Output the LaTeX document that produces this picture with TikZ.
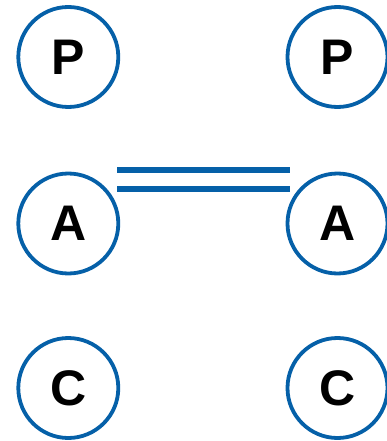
\documentclass[tikz,border=0pt]{standalone}
\usepackage{fontspec}
\setmainfont{Liberation Sans}
\definecolor{cblue}{HTML}{0560A8}
\begin{document}
\begin{tikzpicture}[x=1pt,y=-1pt,
  atom/.style={circle,draw=cblue,line width=3.8pt,minimum size=100pt,inner sep=0pt,font=\fontsize{50}{50}\selectfont\bfseries,text=black},
  bond/.style={draw=cblue,line width=5.5pt}]
\useasboundingbox (0,0) rectangle (386,441);
\node[atom] (pL) at (68.3,57) {P};
\node[atom] (pR) at (337.5,57) {P};
\node[atom] (aL) at (68.3,223.5) {A};
\node[atom] (aR) at (337.5,223.5) {A};
\node[atom] (cL) at (68.3,388) {C};
\node[atom] (cR) at (337.5,388) {C};
\coordinate (b1s) at (117,170);
\coordinate (b1e) at (290,170);
\coordinate (b2s) at (117,189);
\coordinate (b2e) at (290,189);
\draw[bond] (b1s) -- (b1e);
\draw[bond] (b2s) -- (b2e);
\end{tikzpicture}
\end{document}
